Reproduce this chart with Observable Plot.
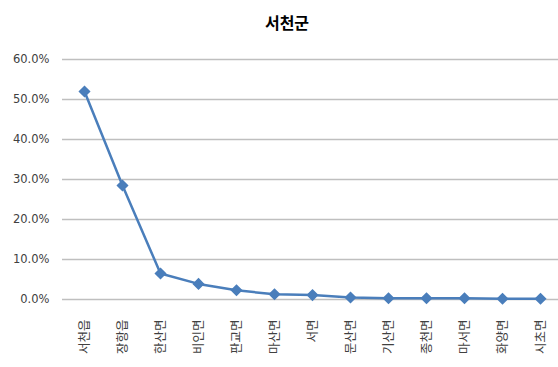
<!DOCTYPE html>
<html>
<head>
<meta charset="utf-8">
<script src="https://cdn.jsdelivr.net/npm/d3@7"></script>
<script src="https://cdn.jsdelivr.net/npm/@observablehq/plot@0.6"></script>
<style>
  html, body { margin: 0; padding: 0; background: #fff; }
  #wrap { width: 558px; font-family: "Noto Sans CJK KR", "Noto Sans", sans-serif; }
  #title { height: 40px; line-height: 44px; text-align: center; font-size: 16px; font-weight: bold; color: #000; padding-left: 16px; box-sizing: border-box; }
</style>
</head>
<body>
<div id="wrap">
  <div id="title">서천군</div>
  <div id="chart"></div>
</div>
<script>
const regions = ["서천읍","장항읍","한산면","비인면","판교면","마산면","서면","문산면","기산면","종천면","마서면","화양면","시초면"];
const shares = [0.52, 0.285, 0.065, 0.039, 0.023, 0.013, 0.011, 0.005, 0.003, 0.003, 0.003, 0.002, 0.002];
const yTicks = [0, 0.1, 0.2, 0.3, 0.4, 0.5, 0.6];

const data = regions.map((r, i) => ({region: r, share: shares[i]}));

const chart = Plot.plot({
  width: 558,
  height: 327,
  marginLeft: 62,
  marginRight: 0,
  marginTop: 19,
  marginBottom: 68,
  style: {fontFamily: "'Noto Sans CJK KR', 'Noto Sans', sans-serif", fontSize: "11px", color: "#404040", background: "#fff"},
  x: {type: "point", domain: regions, padding: 0.4, insetLeft: 4, label: null},
  y: {domain: [0, 0.6], label: null},
  marks: [
    Plot.ruleY(yTicks, {stroke: "#bfbfbf", strokeWidth: 1.5}),
    Plot.axisY(yTicks, {tickSize: 0, tickPadding: 13, tickFormat: d => (d * 100).toFixed(1) + "%", fontSize: 11.5, fontFamily: "'DejaVu Sans', sans-serif", fill: "#404040"}),
    Plot.axisX({tickSize: 0, tickRotate: -90, tickPadding: 20, fontSize: 12.5, fill: "#404040"}),
    Plot.line(data, {x: "region", y: "share", stroke: "#4a7ebb", strokeWidth: 2.5}),
    Plot.dot(data, {x: "region", y: "share", symbol: "diamond2", r: 4.5, fill: "#4a7ebb", stroke: "#4a7ebb"})
  ]
});
document.getElementById("chart").appendChild(chart);
</script>
</body>
</html>
